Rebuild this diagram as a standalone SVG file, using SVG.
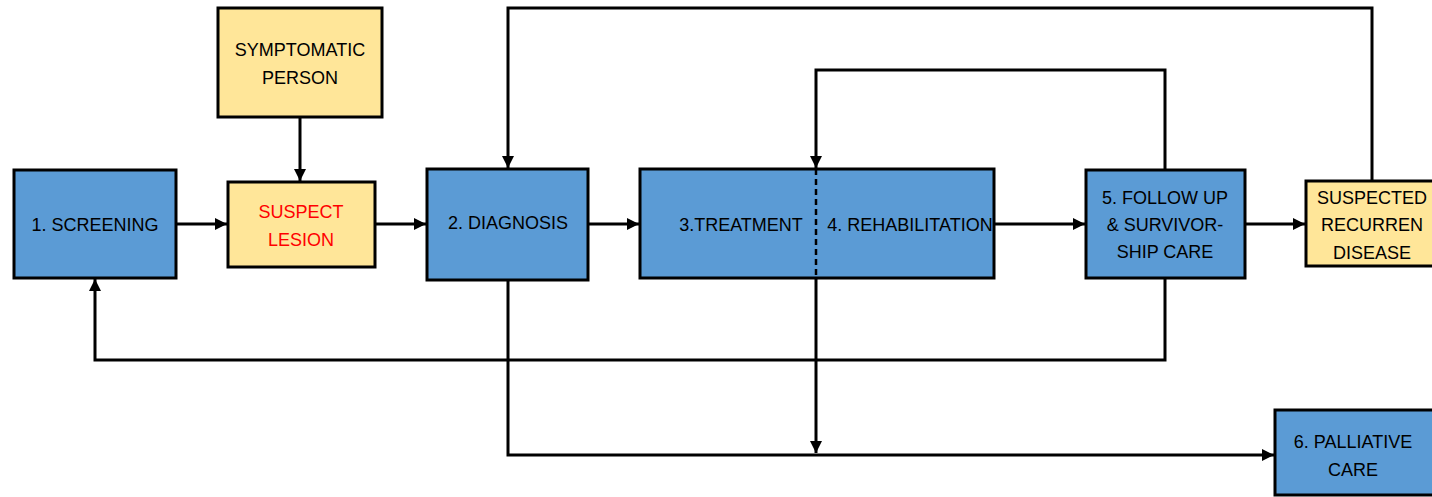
<svg xmlns="http://www.w3.org/2000/svg" width="1432" height="497" viewBox="0 0 1432 497">
<style>
.blue{fill:#5B9BD5;stroke:#000;stroke-width:3}
.yellow{fill:#FFE699;stroke:#000;stroke-width:3}
text{font-family:"Liberation Sans",Arial,sans-serif;font-size:18px;fill:#000;text-anchor:middle}
.red{fill:#FF0000}
.c{fill:none;stroke:#000;stroke-width:3}
</style>
<defs>
<marker id="ah" viewBox="0 0 10 10" refX="10" refY="5" markerWidth="4" markerHeight="4" orient="auto" markerUnits="strokeWidth">
<path d="M0,0 L10,5 L0,10 z" fill="#000"/>
</marker>
</defs>
<rect width="1432" height="497" fill="#fff"/>
<g id="connectors">
<path class="c" d="M300,117 V181" marker-end="url(#ah)"/>
<path class="c" d="M176,224 H227" marker-end="url(#ah)"/>
<path class="c" d="M375,224 H426" marker-end="url(#ah)"/>
<path class="c" d="M588,224 H639" marker-end="url(#ah)"/>
<path class="c" d="M994,224 H1085" marker-end="url(#ah)"/>
<path class="c" d="M1245,224 H1305" marker-end="url(#ah)"/>
<path class="c" d="M1372,181 V8 H508 V168" marker-end="url(#ah)"/>
<path class="c" d="M1165,170 V70 H816 V168" marker-end="url(#ah)"/>
<path class="c" d="M1165,278 V360 H95 V279" marker-end="url(#ah)"/>
<path class="c" d="M508,280 V455 H1274" marker-end="url(#ah)"/>
<path class="c" d="M816,278 V453" marker-end="url(#ah)"/>
</g>
<g id="symptomatic">
<rect class="yellow" x="218" y="8" width="164" height="109"/>
<text x="300" y="56">SYMPTOMATIC</text>
<text x="300" y="84">PERSON</text>
</g>
<g id="screening">
<rect class="blue" x="14" y="170" width="162" height="108"/>
<text x="95" y="231">1. SCREENING</text>
</g>
<g id="suspect-lesion">
<rect class="yellow" x="228" y="182" width="147" height="85"/>
<text class="red" x="301" y="218">SUSPECT</text>
<text class="red" x="301" y="246">LESION</text>
</g>
<g id="diagnosis">
<rect class="blue" x="427" y="169" width="161" height="111"/>
<text x="508" y="229">2. DIAGNOSIS</text>
</g>
<g id="treatment-rehab">
<rect class="blue" x="640" y="169" width="354" height="109"/>
<line x1="816" y1="169" x2="816" y2="278" stroke="#000" stroke-width="2.5" stroke-dasharray="6,4"/>
<text x="741" y="231">3.TREATMENT</text>
<text x="910" y="231">4. REHABILITATION</text>
</g>
<g id="follow-up">
<rect class="blue" x="1086" y="170" width="159" height="108"/>
<text x="1165" y="204">5. FOLLOW UP</text>
<text x="1165" y="231">&amp; SURVIVOR-</text>
<text x="1165" y="258">SHIP CARE</text>
</g>
<g id="suspected-recurrence">
<rect class="yellow" x="1306" y="181" width="130" height="85"/>
<text x="1372" y="204">SUSPECTED</text>
<text x="1372" y="231">RECURREN</text>
<text x="1372" y="259">DISEASE</text>
</g>
<g id="palliative">
<rect class="blue" x="1275" y="410" width="161" height="85"/>
<text x="1353" y="448">6. PALLIATIVE</text>
<text x="1353" y="476">CARE</text>
</g>
</svg>
